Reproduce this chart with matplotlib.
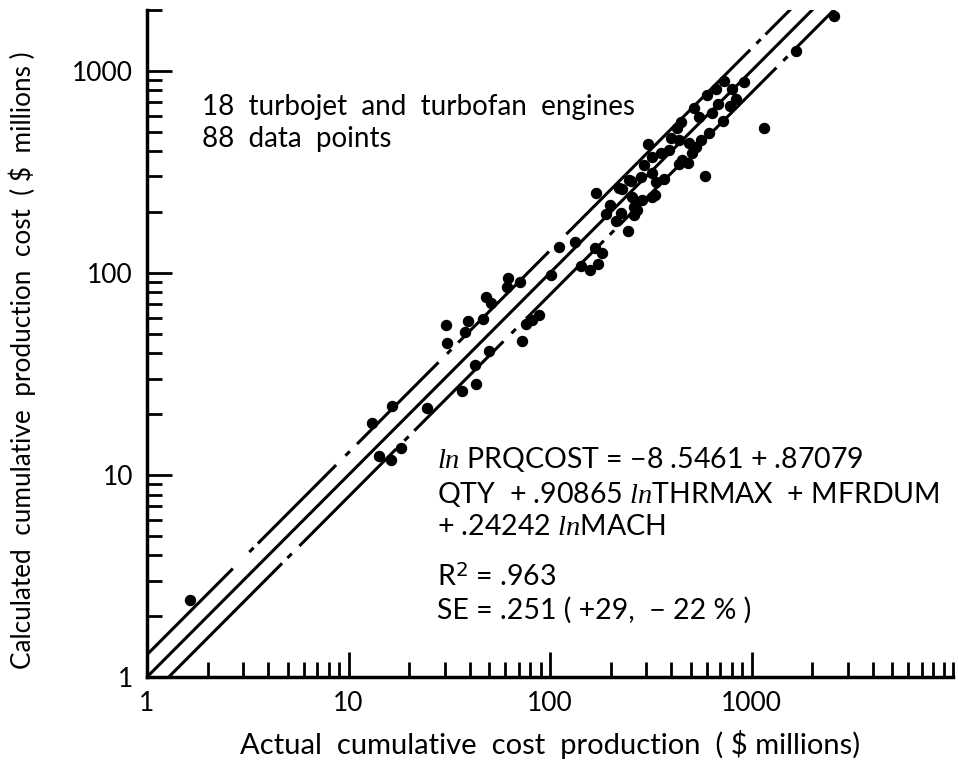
import numpy as np
import matplotlib
matplotlib.use("Agg")
import matplotlib.pyplot as plt

# actual vs calculated cumulative production cost ($ millions)
actual = [1.63, 13.1, 16.5, 14.1, 16.3, 18.3, 24.6, 36.7, 43.0, 30.6,
          30.9, 39.3, 38.0, 46.6, 48.2, 51.0, 62.0, 61.3, 71.0, 42.5,
          49.9, 72.6, 76.1, 81.5, 88.3, 101, 111, 133, 169, 142,
          158, 173, 167, 181, 198, 189, 225, 212, 243, 227,
          252, 261, 261, 267, 282, 255, 292, 305, 320, 320,
          335, 367, 320, 285, 270, 397, 388, 435, 435, 450,
          482, 505, 528, 560, 612, 425, 445, 516, 599, 663,
          727, 679, 778, 833, 796, 913, 718, 585, 1160, 1670,
          2576, 488, 547, 634, 331, 220, 355, 246]
calculated = [2.41, 18.1, 22.0, 12.4, 11.9, 13.6, 21.5, 26.1, 28.2, 55.3,
              45.0, 57.9, 51.0, 59.2, 76.1, 71.0, 94.5, 85.3, 90.2, 35.1,
              41.1, 46.0, 55.9, 58.5, 62.0, 97.7, 134, 142, 249, 108,
              103, 111, 133, 126, 217, 196, 198, 181, 161, 261,
              285, 212, 194, 225, 299, 238, 343, 435, 375, 313,
              282, 292, 238, 230, 205, 466, 406, 455, 347, 362,
              351, 393, 421, 455, 493, 522, 560, 656, 761, 815,
              892, 687, 671, 727, 815, 883, 565, 302, 522, 1256,
              1872, 440, 592, 620, 243, 264, 393, 289]

# +29% / -22% standard error bands around the perfect-fit line
band_upper = 1.29
band_lower = 0.78

# breaks in the hand-drawn band lines (x ranges) and small marks inside them
upper_gaps = [(2.67, 3.54), (8.7, 11.0), (28, 35), (99, 120), (989, 1172)]
upper_marks = [3.3, 9.9, 31.6, 1084]
lower_gaps = [(4.7, 5.7), (17.3, 21.2), (59, 76), (185, 220), (477, 578), (1330, 1615)]
lower_marks = [5.1, 19.4, 66, 203, 1473]

plt.rcParams['font.family'] = ['Lato', 'DejaVu Sans']
plt.rcParams['mathtext.fontset'] = 'custom'
plt.rcParams['mathtext.it'] = 'Liberation Serif:italic'

fig = plt.figure(figsize=(9.58, 7.68), dpi=100)
ax = fig.add_axes([147 / 958, 1 - 677 / 768, 806 / 958, 667 / 768])
ax.set_xscale('log')
ax.set_yscale('log')
ax.set_xlim(1, 10000)
ax.set_ylim(1, 2000)


def band_line(k, gaps, marks):
    x = np.geomspace(1, 10000, 2000)
    y = k * x
    keep = np.ones_like(x, dtype=bool)
    for a, b in gaps:
        keep &= ~((x > a) & (x < b))
    y = np.where(keep, y, np.nan)
    ax.plot(x, y, color='black', lw=2.2, solid_capstyle='butt')
    for m in marks:
        xm = np.array([m / 1.025, m * 1.025])
        ax.plot(xm, k * xm, color='black', lw=2.2, solid_capstyle='butt')


xs = np.geomspace(1, 10000, 200)
ax.plot(xs, xs, color='black', lw=2.2)
band_line(band_upper, upper_gaps, upper_marks)
band_line(band_lower, lower_gaps, lower_marks)

ax.scatter(actual, calculated, s=52, color='black', zorder=3, clip_on=False)

for side in ['top', 'right']:
    ax.spines[side].set_visible(False)
for side in ['left', 'bottom']:
    ax.spines[side].set_linewidth(2.5)

ax.tick_params(which='major', direction='in', length=18, width=2, labelsize=19, pad=10)
ax.tick_params(which='minor', direction='in', length=11, width=2)
ax.set_xticks([1, 10, 100, 1000])
ax.set_xticklabels(['1', '10', '100', '1000'])
ax.set_yticks([1, 10, 100, 1000])
ax.set_yticklabels(['1', '10', '100', '1000'])
ax.xaxis.set_minor_locator(matplotlib.ticker.FixedLocator(
    [m * 10 ** d for d in range(4) for m in range(2, 10)] + [10000]))
ax.xaxis.set_minor_formatter(matplotlib.ticker.NullFormatter())
ax.yaxis.set_minor_formatter(matplotlib.ticker.NullFormatter())

ax.set_xlabel('Actual  cumulative  cost  production  ( $ millions)', fontsize=21, labelpad=10)
ax.set_ylabel('Calculated  cumulative  production  cost  ( $  millions )', fontsize=18.8,
              va='center')
ax.yaxis.set_label_coords(-0.155, 0.475)

ax.text(0.068, 0.874, '18  turbojet  and  turbofan  engines\n88  data  points',
        transform=ax.transAxes, fontsize=20, va='top', linespacing=1.3)

eq = ('$\\mathit{ln}$ PRQCOST = \u22128 .5461 + .87079\n'
      'QTY  + .90865 $\\mathit{ln}$THRMAX  + MFRDUM\n'
      '+ .24242 $\\mathit{ln}$MACH')
ax.text(0.36, 0.348, eq, transform=ax.transAxes, fontsize=20.5, va='top', linespacing=1.25)
ax.text(0.36, 0.17, 'R$^2$ = .963\nSE = .251 ( +29,  \u2212 22 % )',
        transform=ax.transAxes, fontsize=20.5, va='top', linespacing=1.25)

fig.savefig('out.png', dpi=100)
